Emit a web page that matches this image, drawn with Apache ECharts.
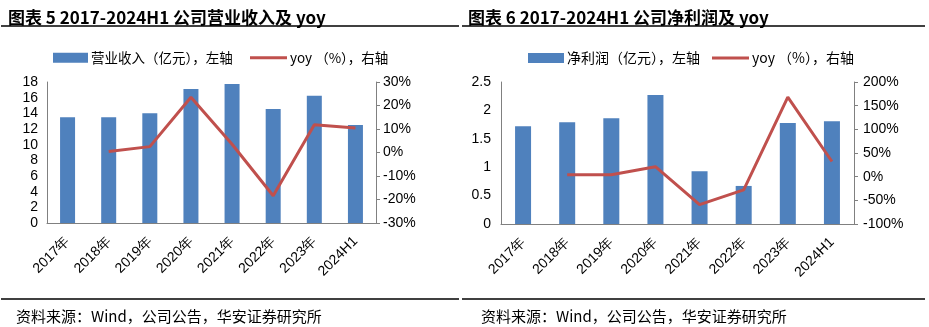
<!DOCTYPE html>
<html><head><meta charset="utf-8">
<script src="https://cdn.jsdelivr.net/npm/echarts@6/dist/echarts.min.js"></script>
<style>html,body{margin:0;padding:0;background:#fff}#c{width:929px;height:327px}</style>
</head><body><div id="c"></div>
<script>
const categories = ['2017年','2018年','2019年','2020年','2021年','2022年','2023年','2024H1'];
const revenue = [13.5, 13.5, 14.0, 17.1, 17.75, 14.55, 16.25, 12.5];
const revenueYoy = [null, 0.4, 2.5, 23.5, 3.5, -18.4, 11.8, 10.4];
const profit = [1.72, 1.79, 1.86, 2.27, 0.93, 0.67, 1.78, 1.81];
const profitYoy = [null, 4, 4, 21, -59, -28, 168, 32];
const leftTicks1 = {min: 0, max: 18, interval: 2};
const rightTicks1 = {min: -30, max: 30, interval: 10};
const leftTicks2 = {min: 0, max: 2.5, interval: 0.5};
const rightTicks2 = {min: -100, max: 200, interval: 50};

const BAR = '#4F81BD', LINE = '#C0504D', AX = '#808080';
const FONT = 'Liberation Sans, Arial, sans-serif';
const CJK = 'Noto Sans CJK SC';

function xAx(grid){
  return {type:'category', gridIndex:grid, data:categories,
    axisLine:{lineStyle:{color:AX,width:1}}, axisTick:{show:false},
    axisLabel:{rotate:45, color:'#000', fontSize:14, fontFamily:FONT, margin:16, interval:0}};
}
function yAx(grid, t, pos, pct, margin){
  return {type:'value', gridIndex:grid, position:pos, min:t.min, max:t.max, interval:t.interval,
    splitLine:{show:false},
    axisLine:{show:true, lineStyle:{color:AX,width:1}},
    axisTick:{show:pos==='right', length:4, lineStyle:{color:AX}},
    axisLabel:{color:'#000', fontSize:14, fontFamily:FONT, margin:margin,
      formatter: pct ? '{value}%' : undefined}};
}
const legTxt1 = {fontSize:13.5, color:'#000', fontFamily:CJK, padding:[0,0,0,-2]};
const legTxt2 = {fontSize:14, color:'#000', fontFamily:CJK, padding:[0,0,0,-2]};
const chart = echarts.init(document.getElementById('c'), null, {renderer:'canvas'});
chart.setOption({
  animation:false,
  backgroundColor:'#fff',
  title:[
    {text:'图表 5 2017-2024H1 公司营业收入及 yoy', left:3, top:4,
      textStyle:{fontSize:17, fontWeight:'bold', color:'#000', fontFamily:CJK}},
    {text:'图表 6 2017-2024H1 公司净利润及 yoy', left:463, top:4,
      textStyle:{fontSize:17, fontWeight:'bold', color:'#000', fontFamily:CJK}},
    {text:'资料来源：Wind，公司公告，华安证券研究所', left:11, top:304,
      textStyle:{fontSize:15, fontWeight:'normal', color:'#000', fontFamily:CJK}},
    {text:'资料来源：Wind，公司公告，华安证券研究所', left:476, top:304,
      textStyle:{fontSize:15, fontWeight:'normal', color:'#000', fontFamily:CJK}}
  ],
  graphic:[
    {type:'line', shape:{x1:1,y1:26,x2:459,y2:26}, style:{stroke:'#000', lineWidth:1.5}},
    {type:'line', shape:{x1:462,y1:26,x2:925,y2:26}, style:{stroke:'#000', lineWidth:1.5}},
    {type:'line', shape:{x1:1,y1:299,x2:459,y2:299}, style:{stroke:'#000', lineWidth:1.5}},
    {type:'line', shape:{x1:462,y1:299,x2:925,y2:299}, style:{stroke:'#000', lineWidth:1.5}}
  ],
  legend:[
    {left:48, top:46, itemWidth:35, itemHeight:10, icon:'rect',
      data:['营业收入（亿元），左轴'], textStyle:legTxt1},
    {left:245, top:46, itemWidth:37, itemHeight:3, icon:'rect',
      data:['yoy （%），右轴'], textStyle:legTxt1},
    {left:523, top:46, itemWidth:36, itemHeight:10, icon:'rect',
      data:['净利润（亿元），左轴'], textStyle:legTxt2},
    {left:707, top:46, itemWidth:37, itemHeight:3, icon:'rect',
      data:['yoy （%），右轴 '], textStyle:legTxt2}
  ],
  grid:[
    {left:47, right:553, top:82, bottom:104},
    {left:501, right:75, top:82, bottom:103}
  ],
  xAxis:[xAx(0), xAx(1)],
  yAxis:[
    yAx(0, leftTicks1, 'left', false, 9),
    yAx(0, rightTicks1, 'right', true, 7),
    yAx(1, leftTicks2, 'left', false, 10),
    yAx(1, rightTicks2, 'right', true, 9)
  ],
  series:[
    {name:'营业收入（亿元），左轴', type:'bar', xAxisIndex:0, yAxisIndex:0, data:revenue,
      barWidth:15, itemStyle:{color:BAR}},
    {name:'yoy （%），右轴', type:'line', xAxisIndex:0, yAxisIndex:1, data:revenueYoy,
      symbol:'none', lineStyle:{color:LINE, width:3}, itemStyle:{color:LINE}},
    {name:'净利润（亿元），左轴', type:'bar', xAxisIndex:1, yAxisIndex:2, data:profit,
      barWidth:16, itemStyle:{color:BAR}},
    {name:'yoy （%），右轴 ', type:'line', xAxisIndex:1, yAxisIndex:3, data:profitYoy,
      symbol:'none', lineStyle:{color:LINE, width:3}, itemStyle:{color:LINE}}
  ]
});
</script></body></html>
